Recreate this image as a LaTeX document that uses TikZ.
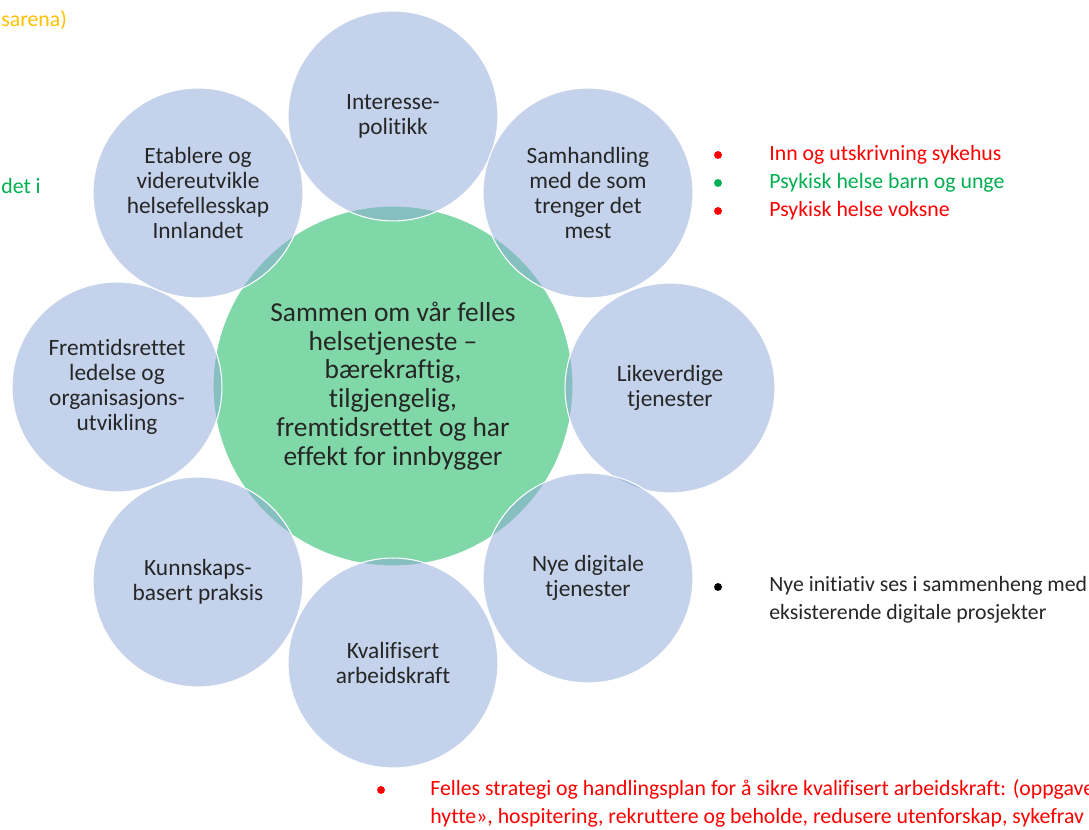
\documentclass[tikz,border=0pt]{standalone}
\usepackage{fontspec}
\setmainfont{Carlito}[Ligatures=NoCommon]
\usetikzlibrary{positioning}
\definecolor{ring}{RGB}{139,167,217}
\definecolor{core}{RGB}{128,216,168}
\definecolor{txt}{RGB}{38,38,38}
\definecolor{rd}{RGB}{255,0,0}
\definecolor{gr}{RGB}{0,176,80}
\definecolor{og}{RGB}{255,192,0}

\begin{document}
\begin{tikzpicture}[x=0.02cm,y=-0.02cm,
  mid/.style={circle,fill=core,draw=white,line width=0.6pt,minimum size=7.2cm,inner sep=0pt,
    align=center,text=txt,font=\fontsize{15.6}{16.4}\selectfont},
  petal/.style={circle,fill=ring,fill opacity=0.5,text opacity=1,draw=white,line width=0.6pt,
    minimum size=4.2cm,inner sep=0pt,align=center,text=txt,font=\fontsize{13.3}{14.2}\selectfont},
  note/.style={anchor=west,inner sep=0pt,font=\fontsize{12.4}{15.9}\selectfont},
  dot/.style={circle,fill,inner sep=0pt,minimum size=4.5pt}]
\clip (0,0) rectangle (1089,830);
\fill[white] (0,0) rectangle (1089,830);

\node[mid] (C) at (393,386) {Sammen om vår felles\\helsetjeneste –\\bærekraftig,\\tilgjengelig,\\fremtidsrettet og har\\effekt for innbygger};

\node[petal] (N) at (393,116) {Interesse-\\politikk};
\node[petal] (NE) at (588,193) {Samhandling\\med de som\\trenger det\\mest};
\node[petal] (E) at (670,388) {Likeverdige\\tjenester};
\node[petal] (SE) at (588,578) {Nye digitale\\tjenester};
\node[petal] (S) at (393,663) {Kvalifisert\\arbeidskraft};
\node[petal] (SW) at (198,582) {Kunnskaps-\\basert praksis};
\node[petal] (W) at (117,387) {Fremtidsrettet\\ledelse og\\organisasjons-\\utvikling};
\node[petal] (NW) at (198,193) {Etablere og\\videreutvikle\\helsefellesskap\\Innlandet};

% notes at the right
\node[dot,rd] (b1) at (718,155) {};
\node[note,rd] (t1) at (769,155) {Inn og utskrivning sykehus};
\node[dot,gr] (b2) at (718,183) {};
\node[note,gr] (t2) at (769,183) {Psykisk helse barn og unge};
\node[dot,rd] (b3) at (718,211) {};
\node[note,rd] (t3) at (769,211) {Psykisk helse voksne};

\node[dot,black] (b4) at (718,587) {};
\node[note,anchor=north west,align=left,text=txt] (t4) at (769,576) {Nye initiativ ses i sammenheng med\\eksisterende digitale prosjekter};

\node[dot,rd] (b5) at (381,790) {};
\node[note,anchor=north west,align=left,rd] (t5) at (430,779) {Felles strategi og handlingsplan for å sikre kvalifisert arbeidskraft: (oppgave\\hytte», hospitering, rekruttere og beholde, redusere utenforskap, sykefrav};

% cut notes at the left
\node[note,og] (t6) at (1,20) {sarena)};
\node[note,gr] (t7) at (1,186) {det i};
\end{tikzpicture}
\end{document}
